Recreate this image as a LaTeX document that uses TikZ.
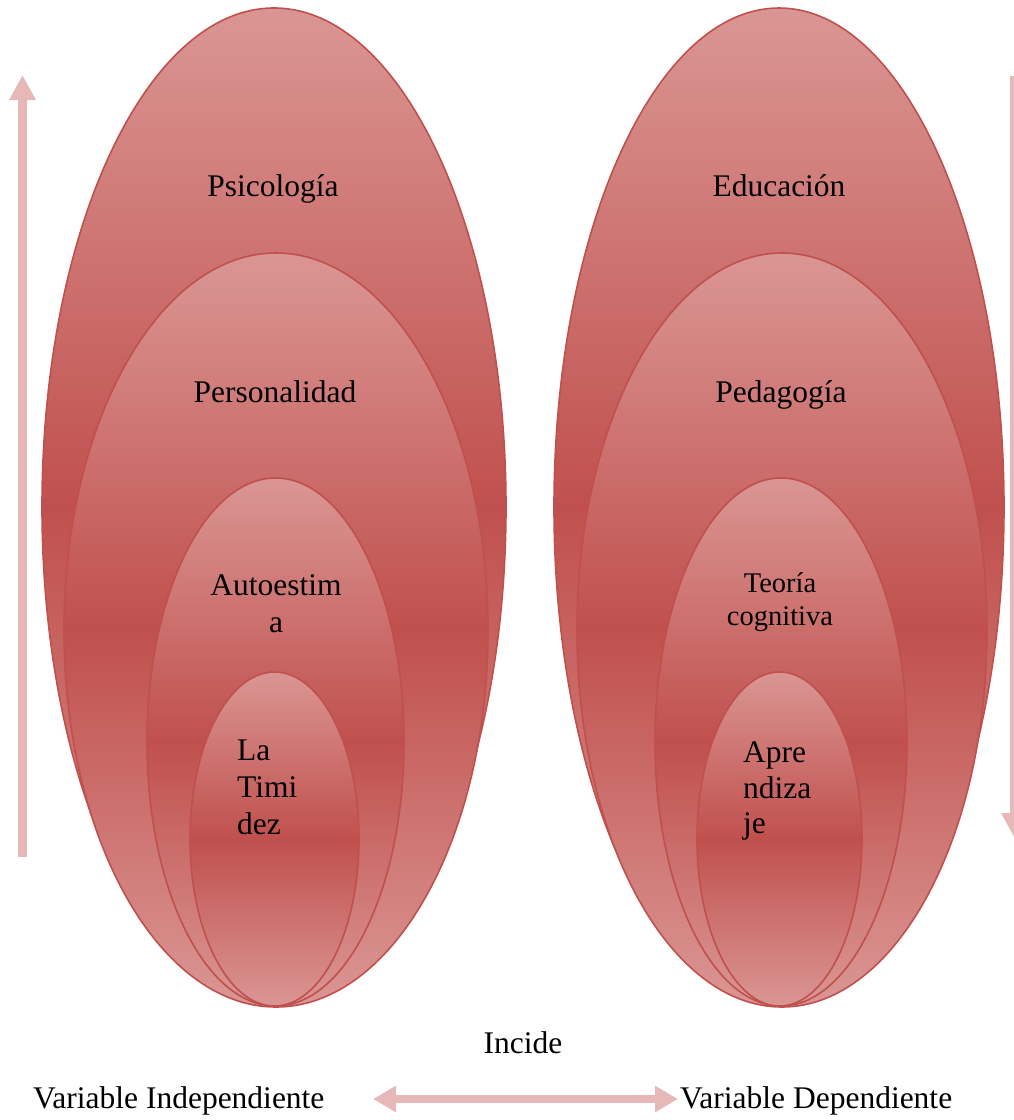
\documentclass[tikz,border=0pt]{standalone}
\usepackage{fontspec}
\setmainfont{Liberation Serif}
\usetikzlibrary{shapes.geometric,arrows.meta}
\definecolor{lightred}{RGB}{218,150,148}
\definecolor{darkred}{RGB}{192,80,77}
\definecolor{edgered}{RGB}{192,80,77}
\definecolor{arrowpink}{RGB}{230,185,184}
\tikzset{
  oval/.style={ellipse, inner sep=0pt, draw=edgered, line width=1.6pt,
    top color=lightred, bottom color=lightred, middle color=darkred},
  lbl/.style={inner sep=0pt, font=\fontsize{31.5}{36.5}\selectfont},
  lblsmall/.style={inner sep=0pt, font=\fontsize{28.5}{34}\selectfont},
  bigarrow/.style={draw=arrowpink, line width=9pt,
    -{Triangle[width=25pt,length=25pt]}},
  dblarrow/.style={draw=arrowpink, line width=8pt,
    {Triangle[width=25pt,length=23pt]}-{Triangle[width=25pt,length=23pt]}}
}
\begin{document}
\begin{tikzpicture}[x=1pt,y=-1pt]
\useasboundingbox (0,0) rectangle (1014,1120);
\clip (0,0) rectangle (1014,1120);
% left column
\node[oval, minimum width=464pt, minimum height=998pt] (L1) at (274,507) {};
\node[oval, minimum width=424pt, minimum height=754pt] (L2) at (276,630) {};
\node[oval, minimum width=257pt, minimum height=528pt] (L3) at (275.5,742) {};
\node[oval, minimum width=169pt, minimum height=334pt] (L4) at (274.5,839) {};
% right column
\node[oval, minimum width=450pt, minimum height=998pt] (R1) at (779,507) {};
\node[oval, minimum width=410pt, minimum height=754pt] (R2) at (782,630) {};
\node[oval, minimum width=252pt, minimum height=528pt] (R3) at (781,742) {};
\node[oval, minimum width=165pt, minimum height=334pt] (R4) at (779.5,839) {};
% labels left
\node[lbl, anchor=base] (tPsi) at (273,196) {Psicología};
\node[lbl, anchor=base] (tPer) at (275,402) {Personalidad};
\node[lbl, anchor=base] (tAut1) at (276,595) {Autoestim};
\node[lbl, anchor=base] (tAut2) at (276,632) {a};
\node[lbl, anchor=base west] (tTim1) at (237,760) {La};
\node[lbl, anchor=base west] (tTim2) at (237,797) {Timi};
\node[lbl, anchor=base west] (tTim3) at (237,834) {dez};
% labels right
\node[lbl, anchor=base] (tEdu) at (779,196) {Educación};
\node[lbl, anchor=base] (tPed) at (781,402) {Pedagogía};
\node[lblsmall, anchor=base] (tTeo1) at (780,592) {Teoría};
\node[lblsmall, anchor=base] (tTeo2) at (780,625) {cognitiva};
\node[lbl, anchor=base west] (tApr1) at (743,762) {Apre};
\node[lbl, anchor=base west] (tApr2) at (743,798) {ndiza};
\node[lbl, anchor=base west] (tApr3) at (743,833) {je};
% bottom texts
\node[lbl, anchor=base] (tInc) at (523,1053) {Incide};
\node[lbl, anchor=base west] (tVI) at (33,1108) {Variable Independiente};
\node[lbl, anchor=base west] (tVD) at (680,1108) {Variable Dependiente};
% arrows
\coordinate (upS) at (22.5,857);
\coordinate (upE) at (22.5,75);
\draw[bigarrow] (upS) -- (upE);
\coordinate (dnS) at (1014.5,76);
\coordinate (dnE) at (1014.5,838);
\draw[bigarrow] (dnS) -- (dnE);
\coordinate (hA) at (373,1099);
\coordinate (hB) at (678,1099);
\draw[dblarrow] (hA) -- (hB);
\end{tikzpicture}
\end{document}
